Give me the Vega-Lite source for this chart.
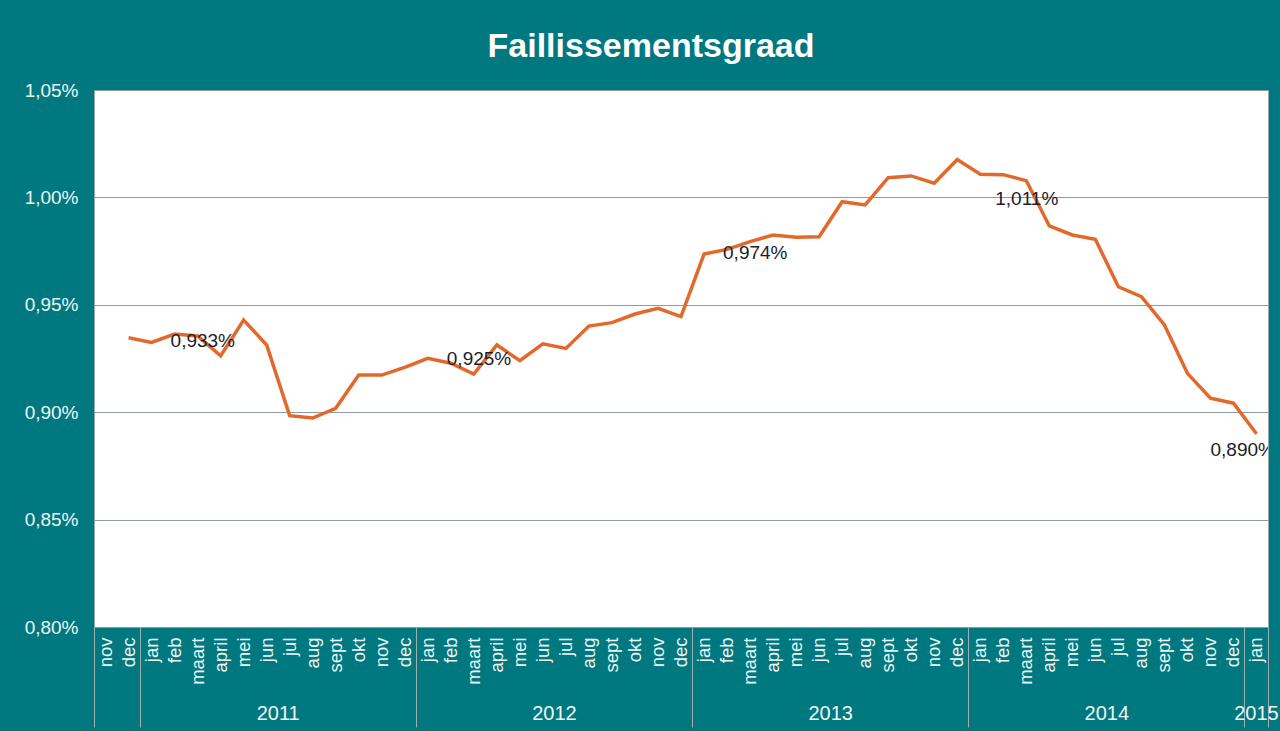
{
  "$schema": "https://vega.github.io/schema/vega-lite/v6.json",
  "width": 1174,
  "height": 537,
  "autosize": {"type": "none"},
  "padding": {"left": 94, "top": 90, "right": 12, "bottom": 104},
  "background": "#00787F",
  "title": {"text": "Faillissementsgraad", "color": "white", "font": "Liberation Sans", "fontSize": 34, "fontWeight": "bold", "anchor": "middle", "frame": "group", "baseline": "alphabetic", "offset": -10, "dx": -30},
  "config": {"view": {"fill": "white", "stroke": "#9aa9a9", "strokeWidth": 1}, "font": "Liberation Sans", "text": {"font": "Liberation Sans"}},
  "resolve": {"axis": {"x": "independent", "y": "independent"}},
  "datasets": {
    "reeks": [
      {"m": "2010 dec", "v": 0.9347},
      {"m": "2011 jan", "v": 0.9325}, {"m": "2011 feb", "v": 0.9364}, {"m": "2011 maart", "v": 0.9355}, {"m": "2011 april", "v": 0.9262},
      {"m": "2011 mei", "v": 0.9429}, {"m": "2011 jun", "v": 0.9313}, {"m": "2011 jul", "v": 0.8984}, {"m": "2011 aug", "v": 0.8973},
      {"m": "2011 sept", "v": 0.9018}, {"m": "2011 okt", "v": 0.9173}, {"m": "2011 nov", "v": 0.9173}, {"m": "2011 dec", "v": 0.9209},
      {"m": "2012 jan", "v": 0.9251}, {"m": "2012 feb", "v": 0.9228}, {"m": "2012 maart", "v": 0.9178}, {"m": "2012 april", "v": 0.9313},
      {"m": "2012 mei", "v": 0.924}, {"m": "2012 jun", "v": 0.9318}, {"m": "2012 jul", "v": 0.9297}, {"m": "2012 aug", "v": 0.9401},
      {"m": "2012 sept", "v": 0.9417}, {"m": "2012 okt", "v": 0.9457}, {"m": "2012 nov", "v": 0.9484}, {"m": "2012 dec", "v": 0.9445},
      {"m": "2013 jan", "v": 0.9736}, {"m": "2013 feb", "v": 0.9758}, {"m": "2013 maart", "v": 0.9794}, {"m": "2013 april", "v": 0.9825},
      {"m": "2013 mei", "v": 0.9814}, {"m": "2013 jun", "v": 0.9817}, {"m": "2013 jul", "v": 0.998}, {"m": "2013 aug", "v": 0.9965},
      {"m": "2013 sept", "v": 1.0092}, {"m": "2013 okt", "v": 1.01}, {"m": "2013 nov", "v": 1.0066}, {"m": "2013 dec", "v": 1.0176},
      {"m": "2014 jan", "v": 1.0108}, {"m": "2014 feb", "v": 1.0106}, {"m": "2014 maart", "v": 1.0078}, {"m": "2014 april", "v": 0.9867},
      {"m": "2014 mei", "v": 0.9825}, {"m": "2014 jun", "v": 0.9805}, {"m": "2014 jul", "v": 0.9584}, {"m": "2014 aug", "v": 0.9538},
      {"m": "2014 sept", "v": 0.9406}, {"m": "2014 okt", "v": 0.9181}, {"m": "2014 nov", "v": 0.9065}, {"m": "2014 dec", "v": 0.9042},
      {"m": "2015 jan", "v": 0.89}
    ],
    "labels": [
      {"m": "2011 feb", "w": 0.933, "t": "0,933%"},
      {"m": "2012 feb", "w": 0.925, "t": "0,925%"},
      {"m": "2013 feb", "w": 0.974, "t": "0,974%"},
      {"m": "2014 feb", "w": 1.011, "t": "1,011%"},
      {"m": "2015 jan", "w": 0.89, "t": "0,890%"}
    ]
  },
  "layer": [
    {
      "data": {"name": "reeks"},
      "mark": {"type": "line", "color": "#E2692B", "strokeWidth": 3.5},
      "encoding": {
        "x": {"field": "m", "type": "ordinal", "sort": null, "bandPosition": 0.5,
          "scale": {"type": "band", "paddingInner": 0, "paddingOuter": 0, "domain": ["2010 nov","2010 dec","2011 jan","2011 feb","2011 maart","2011 april","2011 mei","2011 jun","2011 jul","2011 aug","2011 sept","2011 okt","2011 nov","2011 dec","2012 jan","2012 feb","2012 maart","2012 april","2012 mei","2012 jun","2012 jul","2012 aug","2012 sept","2012 okt","2012 nov","2012 dec","2013 jan","2013 feb","2013 maart","2013 april","2013 mei","2013 jun","2013 jul","2013 aug","2013 sept","2013 okt","2013 nov","2013 dec","2014 jan","2014 feb","2014 maart","2014 april","2014 mei","2014 jun","2014 jul","2014 aug","2014 sept","2014 okt","2014 nov","2014 dec","2015 jan"]},
          "axis": {"orient": "bottom", "title": null, "labelAngle": 270, "labelAlign": "right", "labelBaseline": "middle", "labelPadding": 10, "labelFontSize": 18.5, "labelFont": "Liberation Sans", "labelColor": "#eef6f6", "labelExpr": "split(datum.value, ' ')[1]", "ticks": false, "domain": false, "grid": false, "labelOverlap": false}},
        "y": {"field": "v", "type": "quantitative",
          "scale": {"domain": [0.8, 1.05], "nice": false, "zero": false},
          "axis": {"orient": "left", "title": null, "values": [0.8, 0.85, 0.9, 0.95, 1.0, 1.05], "labelExpr": "replace(format(datum.value, '.2f'), '.', ',') + '%'", "labelFontSize": 19, "labelFont": "Liberation Sans", "labelColor": "#eef6f6", "labelPadding": 16, "ticks": false, "domain": false, "grid": true, "gridColor": "#8c9d9d", "gridWidth": 1, "labelOverlap": false}}
      }
    },
    {
      "data": {"name": "reeks"},
      "mark": {"type": "line", "opacity": 0},
      "encoding": {
        "x": {"field": "m", "type": "ordinal", "sort": null, "bandPosition": 0.5,
          "scale": {"type": "band", "paddingInner": 0, "paddingOuter": 0, "domain": ["2010 nov","2010 dec","2011 jan","2011 feb","2011 maart","2011 april","2011 mei","2011 jun","2011 jul","2011 aug","2011 sept","2011 okt","2011 nov","2011 dec","2012 jan","2012 feb","2012 maart","2012 april","2012 mei","2012 jun","2012 jul","2012 aug","2012 sept","2012 okt","2012 nov","2012 dec","2013 jan","2013 feb","2013 maart","2013 april","2013 mei","2013 jun","2013 jul","2013 aug","2013 sept","2013 okt","2013 nov","2013 dec","2014 jan","2014 feb","2014 maart","2014 april","2014 mei","2014 jun","2014 jul","2014 aug","2014 sept","2014 okt","2014 nov","2014 dec","2015 jan"]},
          "axis": {"orient": "bottom", "title": null, "bandPosition": 1, "labels": false, "domain": false, "grid": false, "ticks": true, "tickSize": 100, "tickWidth": 1,
            "tickColor": {"condition": {"test": "indexof(datum.value, 'dec') >= 0 || datum.value == '2015 jan'", "value": "#9fb0b0"}, "value": "transparent"}}},
        "y": {"field": "v", "type": "quantitative", "scale": {"domain": [0.8, 1.05], "nice": false, "zero": false}, "axis": null}
      }
    },
    {
      "data": {"name": "reeks"},
      "mark": {"type": "line", "opacity": 0},
      "encoding": {
        "x": {"field": "m", "type": "ordinal", "sort": null, "bandPosition": 0.5,
          "scale": {"type": "band", "paddingInner": 0, "paddingOuter": 0, "domain": ["2010 nov","2010 dec","2011 jan","2011 feb","2011 maart","2011 april","2011 mei","2011 jun","2011 jul","2011 aug","2011 sept","2011 okt","2011 nov","2011 dec","2012 jan","2012 feb","2012 maart","2012 april","2012 mei","2012 jun","2012 jul","2012 aug","2012 sept","2012 okt","2012 nov","2012 dec","2013 jan","2013 feb","2013 maart","2013 april","2013 mei","2013 jun","2013 jul","2013 aug","2013 sept","2013 okt","2013 nov","2013 dec","2014 jan","2014 feb","2014 maart","2014 april","2014 mei","2014 jun","2014 jul","2014 aug","2014 sept","2014 okt","2014 nov","2014 dec","2015 jan"]},
          "axis": {"orient": "bottom", "title": null, "bandPosition": 0, "domain": false, "grid": false, "ticks": true, "tickSize": 100, "tickWidth": 1,
            "tickColor": {"condition": {"test": "datum.value == '2010 nov'", "value": "#9fb0b0"}, "value": "transparent"},
            "labelExpr": "indexof(datum.value, 'jul') >= 0 ? substring(datum.value, 0, 4) : (datum.value == '2015 jan' ? '2015' : '')",
            "labelOffset": {"condition": {"test": "datum.value == '2015 jan'", "value": 0}, "value": -11.5},
            "labelPadding": -14, "labelBaseline": "middle", "labelAngle": 0, "labelAlign": "center", "labelFontSize": 20, "labelFont": "Liberation Sans", "labelColor": "#eef6f6", "labelOverlap": false}},
        "y": {"field": "v", "type": "quantitative", "scale": {"domain": [0.8, 1.05], "nice": false, "zero": false}, "axis": null}
      }
    },
    {
      "data": {"name": "labels"},
      "transform": [{"filter": "datum.w < 1 && datum.w > 0.9"}],
      "mark": {"type": "text", "align": "left", "baseline": "middle", "dx": -4, "fontSize": 19, "color": "#1c1c2a"},
      "encoding": {
        "x": {"field": "m", "type": "ordinal", "sort": null, "bandPosition": 0.5,
          "scale": {"type": "band", "paddingInner": 0, "paddingOuter": 0, "domain": ["2010 nov","2010 dec","2011 jan","2011 feb","2011 maart","2011 april","2011 mei","2011 jun","2011 jul","2011 aug","2011 sept","2011 okt","2011 nov","2011 dec","2012 jan","2012 feb","2012 maart","2012 april","2012 mei","2012 jun","2012 jul","2012 aug","2012 sept","2012 okt","2012 nov","2012 dec","2013 jan","2013 feb","2013 maart","2013 april","2013 mei","2013 jun","2013 jul","2013 aug","2013 sept","2013 okt","2013 nov","2013 dec","2014 jan","2014 feb","2014 maart","2014 april","2014 mei","2014 jun","2014 jul","2014 aug","2014 sept","2014 okt","2014 nov","2014 dec","2015 jan"]},
          "axis": null},
        "y": {"field": "w", "type": "quantitative", "scale": {"domain": [0.8, 1.05], "nice": false, "zero": false}, "axis": null},
        "text": {"field": "t"}
      }
    },
    {
      "data": {"name": "labels"},
      "transform": [{"filter": "datum.m == '2014 feb'"}],
      "mark": {"type": "text", "align": "left", "baseline": "middle", "dx": -8, "dy": 25, "fontSize": 19, "color": "#1c1c2a"},
      "encoding": {
        "x": {"field": "m", "type": "ordinal", "sort": null, "bandPosition": 0.5,
          "scale": {"type": "band", "paddingInner": 0, "paddingOuter": 0, "domain": ["2010 nov","2010 dec","2011 jan","2011 feb","2011 maart","2011 april","2011 mei","2011 jun","2011 jul","2011 aug","2011 sept","2011 okt","2011 nov","2011 dec","2012 jan","2012 feb","2012 maart","2012 april","2012 mei","2012 jun","2012 jul","2012 aug","2012 sept","2012 okt","2012 nov","2012 dec","2013 jan","2013 feb","2013 maart","2013 april","2013 mei","2013 jun","2013 jul","2013 aug","2013 sept","2013 okt","2013 nov","2013 dec","2014 jan","2014 feb","2014 maart","2014 april","2014 mei","2014 jun","2014 jul","2014 aug","2014 sept","2014 okt","2014 nov","2014 dec","2015 jan"]},
          "axis": null},
        "y": {"field": "w", "type": "quantitative", "scale": {"domain": [0.8, 1.05], "nice": false, "zero": false}, "axis": null},
        "text": {"field": "t"}
      }
    },
    {
      "data": {"name": "labels"},
      "transform": [{"filter": "datum.m == '2015 jan'"}],
      "mark": {"type": "text", "align": "left", "baseline": "middle", "dx": -46, "dy": 16, "fontSize": 19, "color": "#1c1c2a", "clip": true},
      "encoding": {
        "x": {"field": "m", "type": "ordinal", "sort": null, "bandPosition": 0.5,
          "scale": {"type": "band", "paddingInner": 0, "paddingOuter": 0, "domain": ["2010 nov","2010 dec","2011 jan","2011 feb","2011 maart","2011 april","2011 mei","2011 jun","2011 jul","2011 aug","2011 sept","2011 okt","2011 nov","2011 dec","2012 jan","2012 feb","2012 maart","2012 april","2012 mei","2012 jun","2012 jul","2012 aug","2012 sept","2012 okt","2012 nov","2012 dec","2013 jan","2013 feb","2013 maart","2013 april","2013 mei","2013 jun","2013 jul","2013 aug","2013 sept","2013 okt","2013 nov","2013 dec","2014 jan","2014 feb","2014 maart","2014 april","2014 mei","2014 jun","2014 jul","2014 aug","2014 sept","2014 okt","2014 nov","2014 dec","2015 jan"]},
          "axis": null},
        "y": {"field": "w", "type": "quantitative", "scale": {"domain": [0.8, 1.05], "nice": false, "zero": false}, "axis": null},
        "text": {"field": "t"}
      }
    }
  ]
}
